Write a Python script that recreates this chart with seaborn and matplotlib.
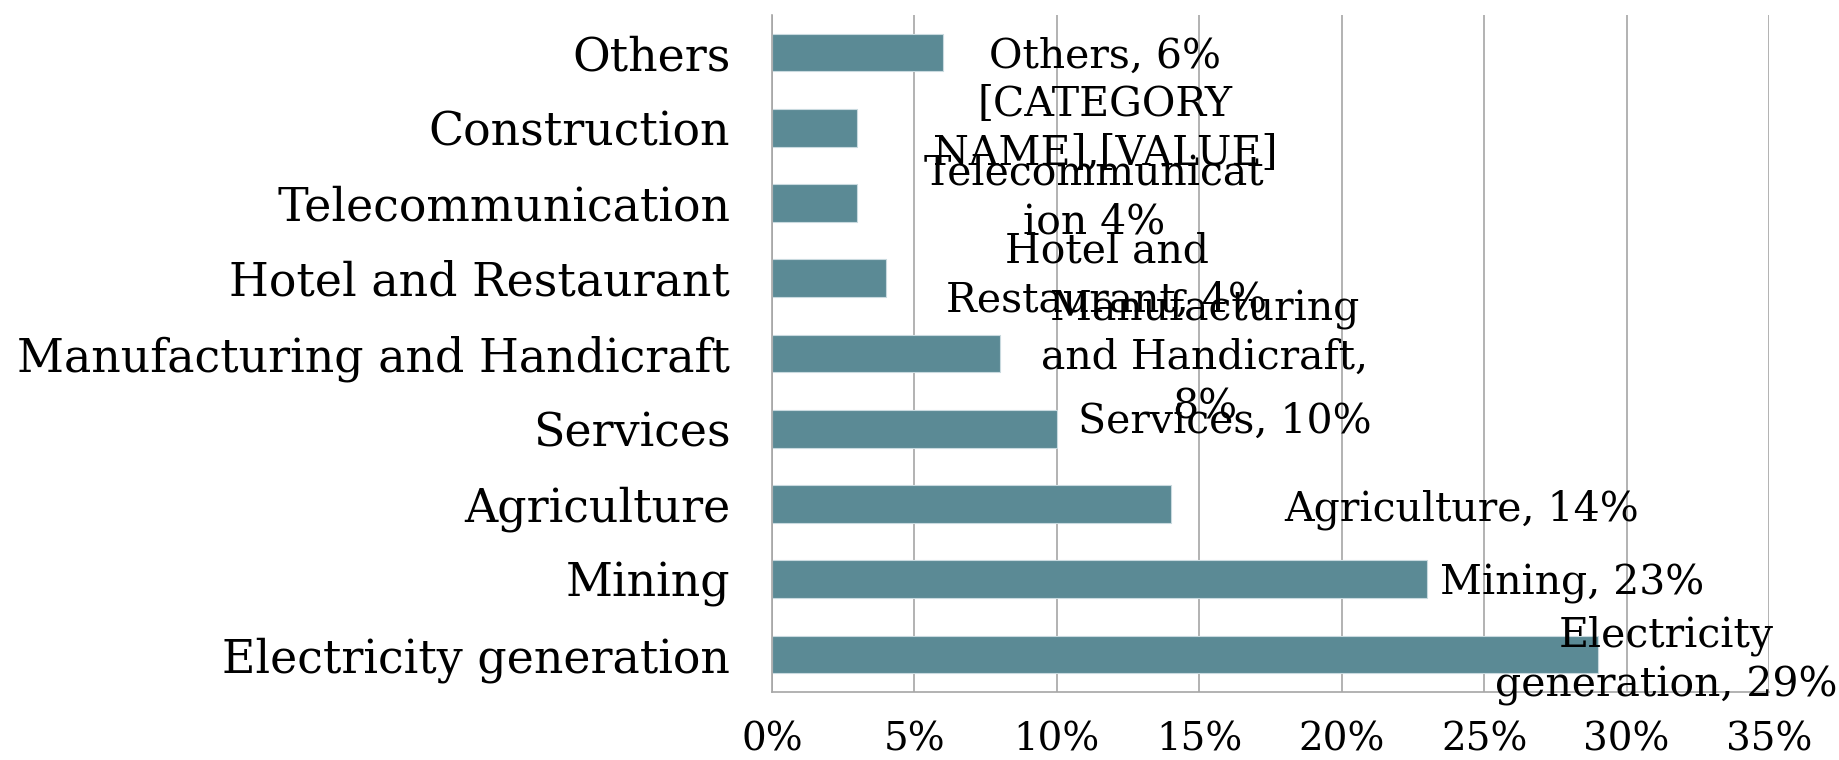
import numpy as np
import pandas as pd
import seaborn as sns
import matplotlib.pyplot as plt
from matplotlib.ticker import FixedLocator

categories = ["Others", "Construction", "Telecommunication", "Hotel and Restaurant",
              "Manufacturing and Handicraft", "Services", "Agriculture", "Mining",
              "Electricity generation"]
shares = [6, 3, 3, 4, 8, 10, 14, 23, 29]
bar_labels = ["Others, 6%", "[CATEGORY\nNAME],[VALUE]", "Telecommunicat\nion 4%",
              "Hotel and\nRestaurant, 4%", "Manufacturing\nand Handicraft,\n8%",
              "Services, 10%", "Agriculture, 14%", "Mining, 23%",
              "Electricity\ngeneration, 29%"]
x_ticks = [0, 5, 10, 15, 20, 25, 30, 35]
x_tick_labels = ["0%", "5%", "10%", "15%", "20%", "25%", "30%", "35%"]

# where the data labels sit (data units), as in the original chart
label_x = [11.7, 11.7, 11.3, 11.75, 15.2, 15.9, 24.2, 28.1, 31.4]
label_dy = [0.05, 0.02, -0.07, -0.03, 0.06, -0.09, 0.08, 0.06, 0.08]

df = pd.DataFrame({"Sector": categories, "Share": shares})

sns.set_style("white")
plt.rcParams["font.family"] = ["DejaVu Serif"]
grey = "#A6A6A6"

fig = plt.figure(figsize=(18.39, 7.6), dpi=100)
ax = fig.add_axes([0.4198, 0.0895, 0.9619 - 0.4198, 0.9803 - 0.0895])

sns.barplot(data=df, x="Share", y="Sector", order=categories, orient="h",
            color="#5B8A95", saturation=1, width=0.5, edgecolor="#C9DADF",
            linewidth=0.8, ax=ax)

for i, txt in enumerate(bar_labels):
    ax.text(label_x[i], i + label_dy[i], txt, ha="center", va="center",
            multialignment="center", fontsize=29.5, color="black", linespacing=1.3)

ax.set_xlim(0, 35)
ax.set_ylim(len(categories) - 0.5, -0.5)
ax.set_xticks(x_ticks)
ax.set_xticklabels(x_tick_labels, fontsize=28)
ax.set_xlabel("")
ax.set_ylabel("")
ax.tick_params(axis="y", which="major", length=0, pad=30, labelsize=33, labelcolor="black")
ax.yaxis.set_minor_locator(FixedLocator(np.arange(-0.5, len(categories), 1)))
ax.tick_params(axis="y", which="minor", length=10, color=grey, width=1.2)
ax.tick_params(axis="x", which="major", length=9.4, color=grey, width=1.2, pad=12,
               labelcolor="black")

ax.xaxis.grid(True, color=grey, linewidth=1.2)
ax.set_axisbelow(True)
for s in ["top", "right"]:
    ax.spines[s].set_visible(False)
for s in ["left", "bottom"]:
    ax.spines[s].set_color(grey)
    ax.spines[s].set_linewidth(1.2)

fig.savefig("out.png", dpi=100)
